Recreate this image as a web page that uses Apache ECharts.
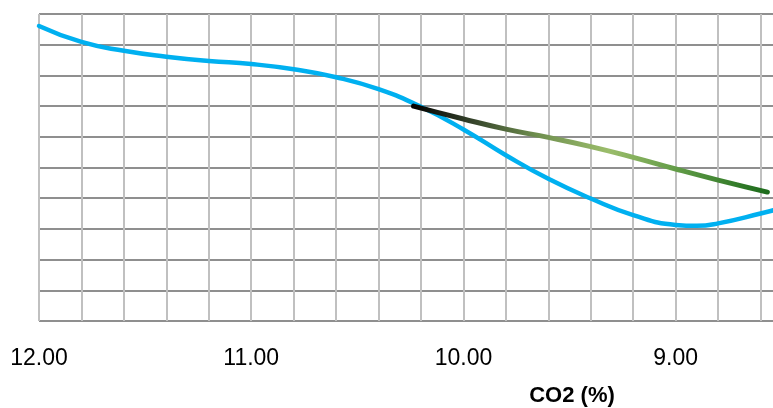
<!DOCTYPE html>
<html>
<head>
<meta charset="utf-8">
<script src="https://cdn.jsdelivr.net/npm/echarts@6/dist/echarts.min.js"></script>
<style>
html,body{margin:0;padding:0;background:#fff;overflow:hidden;width:773px;height:408px;}
#chart{width:806px;height:408px;}
</style>
</head>
<body>
<div id="chart"></div>
<script>
// x values (CO2 %) and y values (unlabelled axis, 0-10 grid units)
var blueX = [12.0, 11.8, 11.6, 11.4, 11.2, 11.0, 10.8, 10.6, 10.4, 10.2, 10.0, 9.8, 9.6, 9.4, 9.2, 9.0, 8.9, 8.8, 8.6, 8.5];
var blueY = [9.61, 9.09, 8.80, 8.61, 8.47, 8.37, 8.20, 7.94, 7.55, 6.98, 6.24, 5.40, 4.63, 3.99, 3.45, 3.13, 3.10, 3.18, 3.50, 3.68];
var greenX = [10.235, 10.0, 9.8, 9.6, 9.4, 9.2, 9.0, 8.8, 8.568];
var greenY = [7.00, 6.58, 6.25, 5.98, 5.68, 5.33, 4.95, 4.59, 4.20];
var tickLabels = ['12.00', '11.00', '10.00', '9.00'];
var axisTitle = 'CO2 (%)';

function pairs(xs, ys) { return xs.map(function (x, i) { return [x, ys[i]]; }); }

var chart = echarts.init(document.getElementById('chart'), null, { renderer: 'canvas' });
var FONT = 'Liberation Sans, Arial, sans-serif';
chart.setOption({
  animation: false,
  backgroundColor: '#ffffff',
  grid: { left: 39, top: 14, right: 0, bottom: 87, containLabel: false },
  xAxis: {
    type: 'value',
    inverse: true,
    min: 8.4,
    max: 12.0,
    interval: 0.2,
    axisLine: { show: false },
    axisTick: { show: false },
    axisLabel: {
      show: true,
      margin: 26,
      color: '#000',
      fontSize: 23,
      fontFamily: FONT,
      showMinLabel: true,
      showMaxLabel: true,
      formatter: function (v) {
        var s = Number(v).toFixed(2);
        return tickLabels.indexOf(s) >= 0 ? s : '';
      }
    },
    splitLine: { show: true, lineStyle: { color: '#c0c0c0', width: 2 } }
  },
  yAxis: {
    type: 'value',
    min: 0,
    max: 10,
    interval: 1,
    axisLine: { show: false },
    axisTick: { show: false },
    axisLabel: { show: false },
    splitLine: { show: true, lineStyle: { color: '#8f8f8f', width: 2 } }
  },
  graphic: [{
    type: 'text',
    x: 572,
    y: 396,
    style: {
      text: axisTitle,
      fill: '#000',
      font: 'bold 22px ' + FONT,
      textAlign: 'center',
      textVerticalAlign: 'middle'
    }
  }],
  series: [
    {
      type: 'line',
      data: pairs(blueX, blueY),
      smooth: 0.5,
      showSymbol: false,
      symbol: 'none',
      clip: false,
      lineStyle: { color: '#00b0f0', width: 4.5, cap: 'round' },
      z: 3
    },
    {
      type: 'line',
      data: pairs(greenX, greenY),
      smooth: 0.5,
      showSymbol: false,
      symbol: 'none',
      clip: false,
      lineStyle: {
        width: 5,
        cap: 'round',
        color: new echarts.graphic.LinearGradient(0, 0, 1, 0, [
          { offset: 0, color: '#000000' },
          { offset: 0.15, color: '#2e3a26' },
          { offset: 0.35, color: '#6f8f4f' },
          { offset: 0.55, color: '#9bbd6b' },
          { offset: 0.75, color: '#5f9a45' },
          { offset: 1, color: '#1a6a1a' }
        ])
      },
      z: 4
    }
  ]
});
</script>
</body>
</html>
